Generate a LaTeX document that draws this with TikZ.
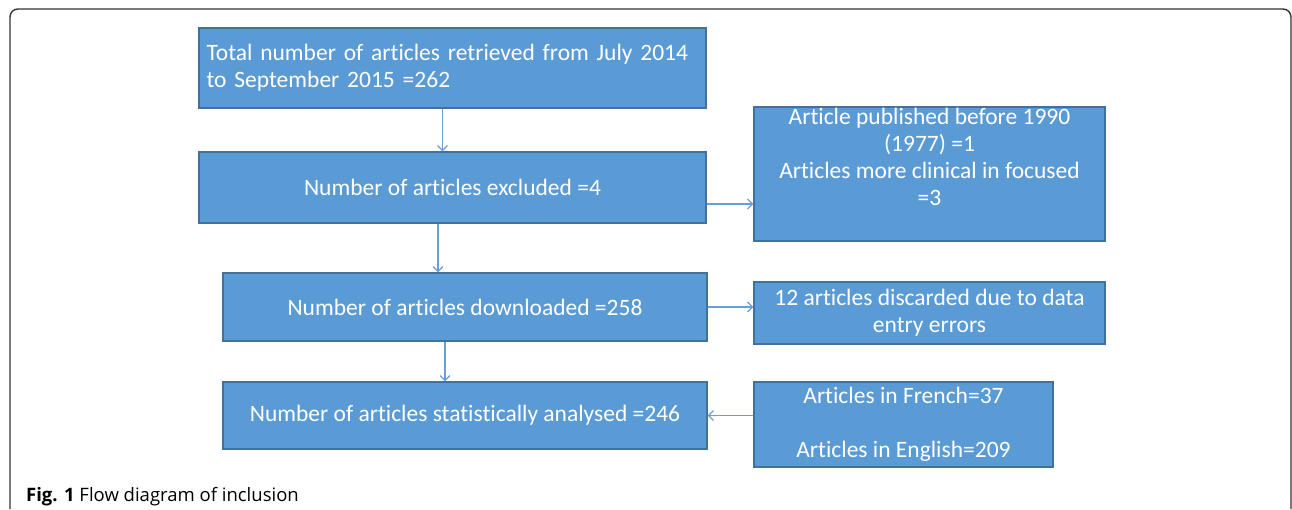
\documentclass[tikz,border=0pt]{standalone}
\usepackage{fontspec}
\setmainfont{Carlito}[Ligatures=NoCommon]
\newfontfamily\capfont{Open Sans}
\usetikzlibrary{arrows.meta}
\definecolor{boxblue}{HTML}{5B9BD5}
\definecolor{boxline}{HTML}{41719C}
\definecolor{arrowblue}{HTML}{6A9ED6}

\begin{document}
\begin{tikzpicture}[x=1pt,y=-1pt,>={Straight Barb[length=5pt,width=10pt]}]
 \useasboundingbox (0,0) rectangle (1292,509);
 % page frame
 \draw [line width=1.4pt, black!80, rounded corners=8pt] (10,509) -- (10,9) -- (1291,9) -- (1291,509);
 \begin{scope}[every node/.style={draw=boxline, fill=boxblue, text=white, line width=1.2pt, rectangle, inner sep=0pt, align=center, font=\fontsize{23.5}{27}\selectfont}]
 \node [minimum width=507pt, minimum height=80pt, text width=492pt, align=left] (total) at (452.5,68) {Total number of articles retrieved from July 2014\\to September 2015 =262};
 \node [minimum width=507pt, minimum height=71pt] (excl) at (452.5,187.5) {Number of articles excluded =4};
 \node [minimum width=351pt, minimum height=134pt] (reasons) at (929.5,174) {Article published before 1990\\(1977) =1\\Articles more clinical in focused\\=3\\\strut};
 \node [minimum width=484pt, minimum height=68pt] (down) at (465,307) {Number of articles downloaded =258};
 \node [minimum width=351pt, minimum height=62pt] (discard) at (929.5,313) {12 articles discarded due to data\\entry errors};
 \node [minimum width=484pt, minimum height=67pt] (anal) at (465,415.5) {Number of articles statistically analysed =246};
 \node [minimum width=299pt, minimum height=85pt] (lang) at (903.5,424.5) {Articles in French=37\\[27pt]Articles in English=209};
 \end{scope}
 \begin{scope}[arrowblue, line width=1.2pt]
 \draw [->] ([xshift=-10pt]total.south) -- ([xshift=-10pt]excl.north);
 \draw [->] ([yshift=-16.5pt]excl.east) -- ([yshift=-16.5pt]excl.east -| reasons.west);
 \draw [->] ([xshift=-14.5pt]excl.south) -- ([xshift=-14.5pt]excl.south |- down.north);
 \draw [->] (down.east) -- (down.east -| discard.west);
 \draw [->] ([xshift=-20pt]down.south) -- ([xshift=-20pt]anal.north);
 \draw [->] (lang.west |- anal.east) -- (anal.east);
 \end{scope}
 \node [anchor=base west, inner sep=0pt, font=\capfont\fontsize{18.5}{22}\selectfont] (caption) at (26,501) {\textbf{Fig. 1} Flow diagram of inclusion};
\end{tikzpicture}
\end{document}
